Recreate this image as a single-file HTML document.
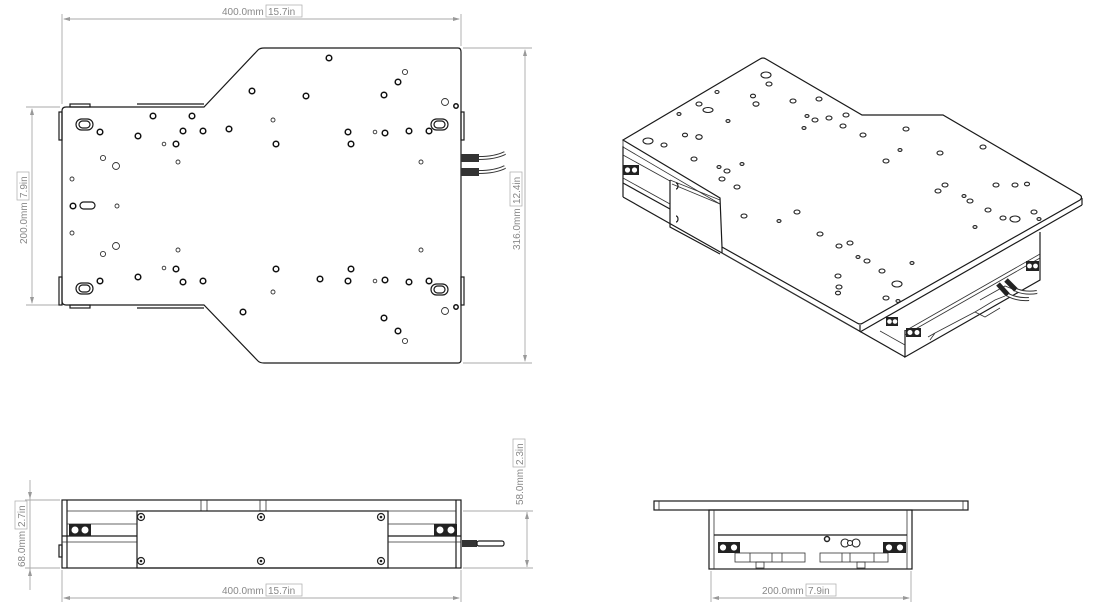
<!DOCTYPE html>
<html><head><meta charset="utf-8"><style>
html,body{margin:0;padding:0;background:#fff;}
svg{display:block;}
.o{fill:none;stroke:#1a1a1a;stroke-width:1.2;}
.t{fill:none;stroke:#333;stroke-width:0.8;}
.h{fill:#fff;stroke:#111;stroke-width:1.5;}
.hs{fill:#fff;stroke:#333;stroke-width:0.9;}
.d{fill:none;stroke:#aaa;stroke-width:0.9;}
.a{fill:#999;}
text{font-family:"Liberation Sans",sans-serif;font-size:10px;fill:#888;}
.e{fill:#fff;stroke:#222;stroke-width:1.1;}
</style></head><body>
<svg width="1100" height="608" viewBox="0 0 1100 608" xmlns="http://www.w3.org/2000/svg">
<!-- TOP VIEW -->
<g>
<line class="d" x1="62" y1="14" x2="62" y2="104"/><line class="d" x1="461" y1="14" x2="461" y2="46"/>
<line class="d" x1="64" y1="19" x2="459" y2="19"/>
<polygon class="a" points="63,19 70,17 70,21"/><polygon class="a" points="460,19 453,17 453,21"/>
<text x="222" y="15">400.0mm</text><rect x="266" y="5" width="36" height="12" fill="none" stroke="#aaa" stroke-width="0.7"/><text x="268" y="15">15.7in</text>
<line class="d" x1="26" y1="107" x2="60" y2="107"/><line class="d" x1="26" y1="305" x2="60" y2="305"/>
<line class="d" x1="32" y1="109" x2="32" y2="303"/>
<polygon class="a" points="32,108 30,115 34,115"/><polygon class="a" points="32,304 30,297 34,297"/>
<g transform="translate(27,244) rotate(-90)"><text x="0" y="0">200.0mm</text><rect x="44" y="-10" width="28" height="12" fill="none" stroke="#aaa" stroke-width="0.7"/><text x="46" y="0">7.9in</text></g>
<line class="d" x1="463" y1="48" x2="532" y2="48"/><line class="d" x1="463" y1="363" x2="532" y2="363"/>
<line class="d" x1="525" y1="50" x2="525" y2="361"/>
<polygon class="a" points="525,49 523,56 527,56"/><polygon class="a" points="525,362 523,355 527,355"/>
<g transform="translate(520,250) rotate(-90)"><text x="0" y="0">316.0mm</text><rect x="44" y="-10" width="34" height="12" fill="none" stroke="#aaa" stroke-width="0.7"/><text x="46" y="0">12.4in</text></g>
<path class="o" d="M66,107 L204,107 L258,50 Q260,48 264,48 L458,48 Q461,48 461,52 L461,360 Q461,363 458,363 L264,363 Q260,363 258,361 L204,305 L66,305 Q62,305 62,301 L62,111 Q62,107 66,107 Z"/>
<line class="o" x1="137" y1="104" x2="204" y2="104"/><line class="o" x1="137" y1="308" x2="204" y2="308"/>
<rect class="o" x="70" y="104" width="20" height="3"/><rect class="o" x="70" y="305" width="20" height="3"/>
<rect class="o" x="461" y="112" width="3" height="28"/><rect class="o" x="461" y="277" width="3" height="28"/>
<rect class="o" x="59" y="112" width="3" height="28"/><rect class="o" x="59" y="277" width="3" height="28"/>
<rect x="461" y="154" width="18" height="8" fill="#333"/><rect x="461" y="168" width="18" height="8" fill="#333"/>
<path d="M479,158 Q495,158 505,153" stroke="#333" stroke-width="4" fill="none"/><path d="M479,158 Q495,158 505,153" stroke="#fff" stroke-width="2" fill="none"/>
<path d="M479,172 Q495,172 505,167" stroke="#333" stroke-width="4" fill="none"/><path d="M479,172 Q495,172 505,167" stroke="#fff" stroke-width="2" fill="none"/>
<g class="o">
<rect x="76" y="119" width="17" height="11" rx="5.5"/><rect x="79" y="121" width="11" height="7" rx="3.5"/>
<rect x="431" y="119" width="17" height="11" rx="5.5"/><rect x="434" y="121" width="11" height="7" rx="3.5"/>
<rect x="76" y="283" width="17" height="11" rx="5.5"/><rect x="79" y="285" width="11" height="7" rx="3.5"/>
<rect x="431" y="284" width="17" height="11" rx="5.5"/><rect x="434" y="286" width="11" height="7" rx="3.5"/>
<rect x="80" y="202" width="15" height="7" rx="3.5"/>
</g>
<g class="h">
<circle cx="329" cy="58" r="2.8"/><circle cx="398" cy="82" r="2.8"/><circle cx="384" cy="95" r="2.8"/><circle cx="252" cy="91" r="2.8"/><circle cx="306" cy="96" r="2.8"/>
<circle cx="153" cy="116" r="2.8"/><circle cx="192" cy="116" r="2.8"/><circle cx="100" cy="132" r="2.8"/><circle cx="138" cy="136" r="2.8"/><circle cx="183" cy="131" r="2.8"/><circle cx="203" cy="131" r="2.8"/><circle cx="229" cy="129" r="2.8"/><circle cx="348" cy="132" r="2.8"/><circle cx="385" cy="133" r="2.8"/><circle cx="409" cy="131" r="2.8"/><circle cx="429" cy="131" r="2.8"/>
<circle cx="176" cy="144" r="2.8"/><circle cx="276" cy="144" r="2.8"/><circle cx="351" cy="144" r="2.8"/><circle cx="73" cy="206" r="2.8"/>
<circle cx="176" cy="269" r="2.8"/><circle cx="276" cy="269" r="2.8"/><circle cx="351" cy="269" r="2.8"/><circle cx="138" cy="277" r="2.8"/><circle cx="100" cy="281" r="2.8"/><circle cx="183" cy="282" r="2.8"/><circle cx="203" cy="281" r="2.8"/><circle cx="320" cy="279" r="2.8"/><circle cx="348" cy="281" r="2.8"/><circle cx="385" cy="280" r="2.8"/><circle cx="409" cy="282" r="2.8"/><circle cx="429" cy="281" r="2.8"/>
<circle cx="243" cy="312" r="2.8"/><circle cx="384" cy="318" r="2.8"/><circle cx="398" cy="331" r="2.8"/><circle cx="456" cy="106" r="2.2"/><circle cx="456" cy="307" r="2.2"/>
</g>
<g class="hs">
<circle cx="405" cy="72" r="2.6"/><circle cx="445" cy="102" r="3.5"/><circle cx="273" cy="120" r="2"/><circle cx="375" cy="132" r="1.8"/><circle cx="164" cy="144" r="1.8"/>
<circle cx="103" cy="158" r="2.6"/><circle cx="116" cy="166" r="3.5"/><circle cx="178" cy="162" r="2"/><circle cx="421" cy="162" r="2"/><circle cx="72" cy="179" r="2"/><circle cx="117" cy="206" r="2"/><circle cx="72" cy="233" r="2"/><circle cx="116" cy="246" r="3.5"/><circle cx="103" cy="254" r="2.6"/><circle cx="178" cy="250" r="2"/><circle cx="421" cy="250" r="2"/><circle cx="164" cy="268" r="1.8"/><circle cx="375" cy="281" r="1.8"/><circle cx="273" cy="292" r="2"/><circle cx="445" cy="311" r="3.5"/><circle cx="405" cy="341" r="2.6"/>
</g>
</g>

<!-- FRONT VIEW -->
<g>
<rect class="o" x="62" y="500" width="399" height="68"/>
<line class="o" x1="67" y1="500" x2="67" y2="568"/><line class="o" x1="456" y1="500" x2="456" y2="568"/>
<line class="t" x1="67" y1="511" x2="456" y2="511"/>
<line class="t" x1="201" y1="500" x2="201" y2="511"/><line class="t" x1="207" y1="500" x2="207" y2="511"/>
<line class="t" x1="260" y1="500" x2="260" y2="511"/><line class="t" x1="266" y1="500" x2="266" y2="511"/>
<rect class="o" x="137" y="511" width="251" height="57"/>
<line class="t" x1="67" y1="524" x2="137" y2="524"/><line class="t" x1="388" y1="524" x2="456" y2="524"/>
<line class="o" x1="62" y1="536" x2="137" y2="536"/><line class="o" x1="388" y1="536" x2="461" y2="536"/>
<line class="t" x1="62" y1="542" x2="137" y2="542"/><line class="t" x1="388" y1="542" x2="461" y2="542"/>
<rect x="69" y="524" width="22" height="12" fill="#222"/><circle cx="75" cy="530" r="4" fill="#fff" stroke="#222"/><circle cx="85" cy="530" r="4" fill="#fff" stroke="#222"/>
<rect x="434" y="524" width="23" height="12" fill="#222"/><circle cx="440" cy="530" r="4" fill="#fff" stroke="#222"/><circle cx="451" cy="530" r="4" fill="#fff" stroke="#222"/>
<rect class="o" x="59" y="545" width="3" height="12"/>
<g fill="#fff" stroke="#222" stroke-width="1.2"><circle cx="141" cy="517" r="3.5"/><circle cx="261" cy="517" r="3.5"/><circle cx="381" cy="517" r="3.5"/><circle cx="141" cy="561" r="3.5"/><circle cx="261" cy="561" r="3.5"/><circle cx="381" cy="561" r="3.5"/></g>
<g fill="#222"><circle cx="141" cy="517" r="1.3"/><circle cx="261" cy="517" r="1.3"/><circle cx="381" cy="517" r="1.3"/><circle cx="141" cy="561" r="1.3"/><circle cx="261" cy="561" r="1.3"/><circle cx="381" cy="561" r="1.3"/></g>
<rect x="462" y="540" width="15" height="7" fill="#333"/><rect class="o" x="477" y="541" width="27" height="5" rx="2"/>
<line class="d" x1="25" y1="500" x2="60" y2="500"/><line class="d" x1="25" y1="568" x2="60" y2="568"/>
<line class="d" x1="30" y1="480" x2="30" y2="590"/>
<polygon class="a" points="30,499 28,492 32,492"/><polygon class="a" points="30,569 28,576 32,576"/>
<g transform="translate(25,567) rotate(-90)"><text x="0" y="0">68.0mm</text><rect x="38" y="-10" width="28" height="12" fill="none" stroke="#aaa" stroke-width="0.7"/><text x="40" y="0">2.7in</text></g>
<line class="d" x1="463" y1="511" x2="533" y2="511"/><line class="d" x1="463" y1="568" x2="533" y2="568"/>
<line class="d" x1="527" y1="512" x2="527" y2="567"/>
<polygon class="a" points="527,512 525,519 529,519"/><polygon class="a" points="527,567 525,560 529,560"/>
<g transform="translate(523,505) rotate(-90)"><text x="0" y="0">58.0mm</text><rect x="38" y="-10" width="28" height="12" fill="none" stroke="#aaa" stroke-width="0.7"/><text x="40" y="0">2.3in</text></g>
<line class="d" x1="62" y1="570" x2="62" y2="602"/><line class="d" x1="461" y1="570" x2="461" y2="602"/>
<line class="d" x1="64" y1="598" x2="459" y2="598"/>
<polygon class="a" points="63,598 70,596 70,600"/><polygon class="a" points="460,598 453,596 453,600"/>
<text x="222" y="594">400.0mm</text><rect x="266" y="584" width="36" height="12" fill="none" stroke="#aaa" stroke-width="0.7"/><text x="268" y="594">15.7in</text>
</g>

<!-- SIDE VIEW -->
<g>
<rect class="o" x="654" y="501" width="314" height="9"/>
<line class="t" x1="659" y1="501" x2="659" y2="510"/><line class="t" x1="963" y1="501" x2="963" y2="510"/>
<rect class="o" x="709" y="510" width="203" height="59"/>
<line class="t" x1="714" y1="510" x2="714" y2="569"/><line class="t" x1="907" y1="510" x2="907" y2="569"/>
<line class="o" x1="714" y1="535" x2="907" y2="535"/>
<rect class="t" x="735" y="553" width="70" height="9"/><rect class="t" x="820" y="553" width="68" height="9"/>
<line class="t" x1="750" y1="553" x2="750" y2="562"/><line class="t" x1="772" y1="553" x2="772" y2="562"/><line class="t" x1="782" y1="553" x2="782" y2="562"/>
<line class="t" x1="842" y1="553" x2="842" y2="562"/><line class="t" x1="850" y1="553" x2="850" y2="562"/><line class="t" x1="874" y1="553" x2="874" y2="562"/>
<rect class="t" x="756" y="562" width="8" height="6"/><rect class="t" x="857" y="562" width="8" height="6"/>
<rect x="718" y="542" width="22" height="11" fill="#222"/><circle cx="723" cy="547.5" r="3.6" fill="#fff" stroke="#222"/><circle cx="734" cy="547.5" r="3.6" fill="#fff" stroke="#222"/>
<rect x="883" y="542" width="23" height="11" fill="#222"/><circle cx="889" cy="547.5" r="3.6" fill="#fff" stroke="#222"/><circle cx="900" cy="547.5" r="3.6" fill="#fff" stroke="#222"/>
<circle cx="827" cy="539" r="2.5" fill="#fff" stroke="#222" stroke-width="1.5"/>
<circle cx="845" cy="543" r="4" class="e"/><circle cx="856" cy="543" r="4" class="e"/><circle cx="850" cy="543" r="2.5" class="e"/>
<line class="d" x1="711" y1="571" x2="711" y2="602"/><line class="d" x1="911" y1="571" x2="911" y2="602"/>
<line class="d" x1="713" y1="598" x2="909" y2="598"/>
<polygon class="a" points="712,598 719,596 719,600"/><polygon class="a" points="910,598 903,596 903,600"/>
<text x="762" y="594">200.0mm</text><rect x="806" y="584" width="30" height="12" fill="none" stroke="#aaa" stroke-width="0.7"/><text x="808" y="594">7.9in</text>
</g>

<!-- ISOMETRIC -->
<g>
<!-- right body below plate -->
<path class="o" d="M1040,232 L1040,280 L905,357 L905,330"/>
<line class="t" x1="905" y1="335" x2="1040" y2="258"/>
<line class="t" x1="905" y1="331" x2="1040" y2="254"/>
<line class="o" x1="722" y1="253" x2="905" y2="357"/>
<line class="t" x1="880" y1="331" x2="905" y2="345"/>
<path class="t" d="M928,337 L935,333 L975,312 L985,317 L1000,308 M935,333 L930,340 M975,312 L995,300 L1005,296"/>
<path class="t" d="M980,300 L1005,286 L1015,290"/>
<rect x="1026" y="261" width="13" height="10" fill="#222"/><circle cx="1029.5" cy="266" r="2.4" fill="#fff"/><circle cx="1035.5" cy="266" r="2.4" fill="#fff"/>
<rect x="906" y="328" width="15" height="9" fill="#222"/><circle cx="910" cy="332.5" r="2.5" fill="#fff"/><circle cx="917" cy="332.5" r="2.5" fill="#fff"/>
<rect x="886" y="317" width="12" height="9" fill="#222"/><circle cx="889.5" cy="321.5" r="2.3" fill="#fff"/><circle cx="895" cy="321.5" r="2.3" fill="#fff"/>
<path d="M998,284 L1008,295" stroke="#222" stroke-width="5"/><path d="M1006,280 L1016,290" stroke="#222" stroke-width="5"/>
<path d="M1008,295 Q1018,300 1029,299" stroke="#333" stroke-width="4" fill="none"/><path d="M1008,295 Q1018,300 1029,299" stroke="#fff" stroke-width="2" fill="none"/>
<path d="M1016,290 Q1026,294 1037,292" stroke="#333" stroke-width="4" fill="none"/><path d="M1016,290 Q1026,294 1037,292" stroke="#fff" stroke-width="2" fill="none"/>
<!-- left body -->
<line class="o" x1="623" y1="146" x2="623" y2="197"/>
<line class="o" x1="623" y1="197" x2="722" y2="253"/>
<line class="t" x1="623" y1="155" x2="670" y2="181"/>
<line class="t" x1="623" y1="178" x2="670" y2="204"/>
<line class="o" x1="623" y1="183" x2="670" y2="209"/>
<path class="o" d="M670,180 L670,227 L720,254"/>
<line class="t" x1="670" y1="180" x2="720" y2="200"/>
<line class="t" x1="672" y1="184" x2="720" y2="204"/>
<path d="M676,183 a2,3 0 0 1 0,6" class="o"/><path d="M676,216 a2,3 0 0 1 0,6" class="o"/>
<rect x="623" y="165" width="16" height="10" fill="#222"/><circle cx="627.5" cy="170" r="2.6" fill="#fff"/><circle cx="634.5" cy="170" r="2.6" fill="#fff"/>
<!-- plate -->
<path class="o" style="fill:#fff" d="M623,140 L760,59 Q763,57 766,59 L862,115 L943,115 L1080,195 Q1083,197 1080,200 L863,323 Q860,325 857,323 L722,247 L720,198 Z"/>
<line class="t" x1="623" y1="140" x2="623" y2="147"/>
<line class="t" x1="623" y1="147" x2="720" y2="204"/>
<line class="o" x1="722" y1="247" x2="722" y2="253"/>
<line class="t" x1="722" y1="253" x2="858" y2="330"/>
<line class="o" x1="860" y1="325" x2="860" y2="332"/>
<line class="o" x1="860" y1="332" x2="1082" y2="205"/>
<line class="o" x1="1082" y1="198" x2="1082" y2="205"/>
<g class="e">
<ellipse cx="766" cy="75" rx="5" ry="3"/><ellipse cx="708" cy="110" rx="5" ry="2.5"/><ellipse cx="648" cy="141" rx="5" ry="3"/><ellipse cx="1015" cy="219" rx="5" ry="3"/><ellipse cx="897" cy="284" rx="5" ry="3"/>
</g>
<g class="e">
<ellipse cx="769" cy="84" rx="3" ry="2"/><ellipse cx="717" cy="92" rx="2" ry="1.5"/><ellipse cx="753" cy="96" rx="2.5" ry="1.8"/><ellipse cx="756" cy="104" rx="3" ry="2.2"/><ellipse cx="699" cy="104" rx="3" ry="2"/><ellipse cx="679" cy="114" rx="2" ry="1.4"/><ellipse cx="793" cy="101" rx="3" ry="2"/><ellipse cx="819" cy="99" rx="3" ry="2"/><ellipse cx="807" cy="116" rx="2" ry="1.4"/><ellipse cx="815" cy="120" rx="3" ry="2"/><ellipse cx="829" cy="118" rx="3" ry="2"/><ellipse cx="846" cy="115" rx="3" ry="2"/><ellipse cx="843" cy="126" rx="3" ry="2"/><ellipse cx="804" cy="128" rx="2" ry="1.4"/><ellipse cx="728" cy="121" rx="2" ry="1.4"/><ellipse cx="685" cy="135" rx="2.5" ry="1.8"/><ellipse cx="699" cy="137" rx="3.2" ry="2.3"/><ellipse cx="664" cy="145" rx="3" ry="2"/><ellipse cx="863" cy="135" rx="3" ry="2"/><ellipse cx="906" cy="129" rx="3" ry="2"/><ellipse cx="694" cy="159" rx="3" ry="2"/><ellipse cx="940" cy="153" rx="3" ry="2"/><ellipse cx="983" cy="147" rx="3" ry="2"/><ellipse cx="900" cy="150" rx="2" ry="1.4"/><ellipse cx="886" cy="161" rx="3" ry="2"/><ellipse cx="742" cy="164" rx="2" ry="1.4"/><ellipse cx="719" cy="167" rx="2" ry="1.4"/><ellipse cx="727" cy="171" rx="3" ry="2"/><ellipse cx="722" cy="179" rx="3" ry="2"/><ellipse cx="737" cy="187" rx="3" ry="2"/><ellipse cx="945" cy="185" rx="3" ry="2"/><ellipse cx="938" cy="191" rx="3" ry="2"/><ellipse cx="996" cy="185" rx="3" ry="2"/><ellipse cx="1015" cy="185" rx="3" ry="2"/><ellipse cx="1027" cy="184" rx="2.5" ry="1.8"/><ellipse cx="964" cy="196" rx="2" ry="1.4"/><ellipse cx="970" cy="201" rx="3" ry="2"/><ellipse cx="988" cy="210" rx="3" ry="2"/><ellipse cx="1003" cy="218" rx="3" ry="2"/><ellipse cx="1034" cy="212" rx="3" ry="2"/><ellipse cx="1039" cy="219" rx="2" ry="1.4"/><ellipse cx="975" cy="227" rx="2" ry="1.4"/><ellipse cx="744" cy="216" rx="3" ry="2"/><ellipse cx="797" cy="212" rx="3" ry="2"/><ellipse cx="779" cy="221" rx="2" ry="1.4"/><ellipse cx="820" cy="234" rx="3" ry="2"/><ellipse cx="839" cy="246" rx="3" ry="2"/><ellipse cx="850" cy="243" rx="3" ry="2"/><ellipse cx="858" cy="257" rx="2" ry="1.4"/><ellipse cx="867" cy="261" rx="3" ry="2"/><ellipse cx="912" cy="263" rx="2" ry="1.4"/><ellipse cx="882" cy="271" rx="3" ry="2"/><ellipse cx="838" cy="276" rx="3" ry="2"/><ellipse cx="839" cy="287" rx="3" ry="2"/><ellipse cx="838" cy="293" rx="2.5" ry="1.8"/><ellipse cx="886" cy="298" rx="3" ry="2"/><ellipse cx="898" cy="301" rx="2" ry="1.4"/>
</g>
</g>
</svg>
</body></html>
